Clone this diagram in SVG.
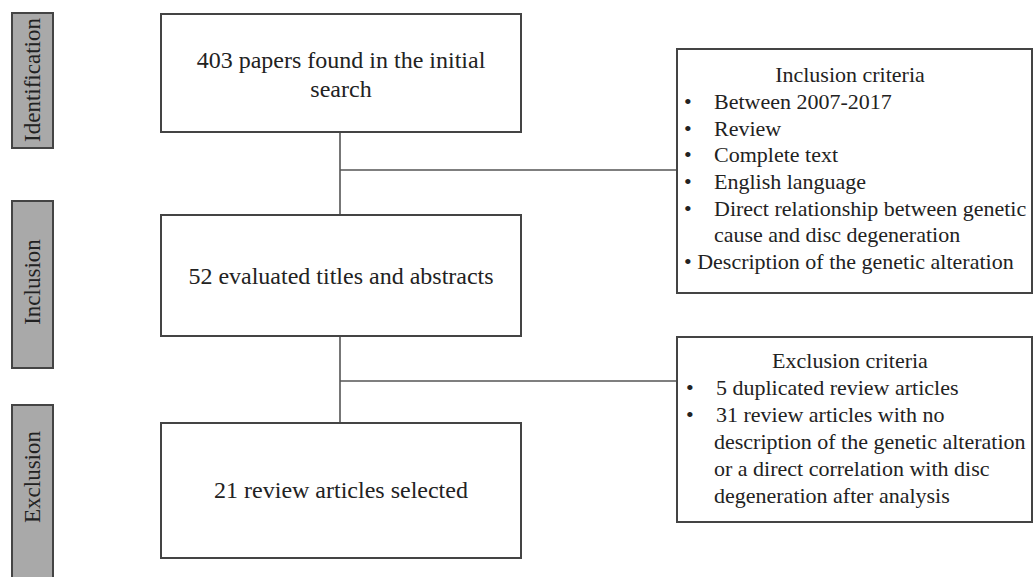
<svg xmlns="http://www.w3.org/2000/svg" width="1034" height="577" viewBox="0 0 1034 577">
<style>
  text { font-family: "Liberation Serif", "Times New Roman", serif; fill: #222; }
  .main { font-size: 24px; text-anchor: middle; }
  .crit { font-size: 22px; }
  .title { text-anchor: middle; }
  .label { font-size: 23px; text-anchor: middle; }
  .box { fill: #fff; stroke: #444; stroke-width: 2; }
  .side { fill: #a9a9a9; stroke: #444; stroke-width: 2; }
  .conn { fill: none; stroke: #555; stroke-width: 1.6; }
</style>
<rect width="1034" height="577" fill="#fff"/>

<g id="label-identification">
  <rect class="side" x="12" y="13" width="41" height="135"/>
  <text class="label" transform="translate(40,80) rotate(-90)">Identification</text>
</g>
<g id="label-inclusion">
  <rect class="side" x="12" y="201" width="41" height="167"/>
  <text class="label" transform="translate(40,282) rotate(-90)">Inclusion</text>
</g>
<g id="label-exclusion">
  <rect class="side" x="12" y="405" width="41" height="180"/>
  <text class="label" transform="translate(40,477) rotate(-90)">Exclusion</text>
</g>

<g id="connectors">
  <path class="conn" d="M340,132 V215 M340,170 H677"/>
  <path class="conn" d="M340,336 V423 M340,381 H677"/>
</g>

<g id="node-identified">
  <rect class="box" x="161" y="14" width="360" height="118"/>
  <text class="main" x="341" y="68">403 papers found in the initial</text>
  <text class="main" x="341" y="97">search</text>
</g>

<g id="node-evaluated">
  <rect class="box" x="161" y="215" width="360" height="121"/>
  <text class="main" x="341" y="284">52 evaluated titles and abstracts</text>
</g>

<g id="node-selected">
  <rect class="box" x="161" y="423" width="360" height="135"/>
  <text class="main" x="341" y="498">21 review articles selected</text>
</g>

<g id="node-inclusion-criteria">
  <rect class="box" x="677" y="49" width="355" height="244"/>
  <text class="crit title" x="850" y="82">Inclusion criteria</text>
  <text class="crit" x="684" y="109">•</text><text class="crit" x="714" y="109">Between 2007-2017</text>
  <text class="crit" x="684" y="136">•</text><text class="crit" x="714" y="136">Review</text>
  <text class="crit" x="684" y="162">•</text><text class="crit" x="714" y="162">Complete text</text>
  <text class="crit" x="684" y="189">•</text><text class="crit" x="714" y="189">English language</text>
  <text class="crit" x="684" y="216">•</text><text class="crit" x="714" y="216">Direct relationship between genetic</text>
  <text class="crit" x="714" y="242">cause and disc degeneration</text>
  <text class="crit" x="684" y="269">• Description of the genetic alteration</text>
</g>

<g id="node-exclusion-criteria">
  <rect class="box" x="677" y="337" width="355" height="185"/>
  <text class="crit title" x="850" y="368">Exclusion criteria</text>
  <text class="crit" x="686" y="395">•</text><text class="crit" x="716" y="395">5 duplicated review articles</text>
  <text class="crit" x="686" y="422">•</text><text class="crit" x="716" y="422">31 review articles with no</text>
  <text class="crit" x="714" y="449">description of the genetic alteration</text>
  <text class="crit" x="714" y="476">or a direct correlation with disc</text>
  <text class="crit" x="714" y="503">degeneration after analysis</text>
</g>
</svg>
